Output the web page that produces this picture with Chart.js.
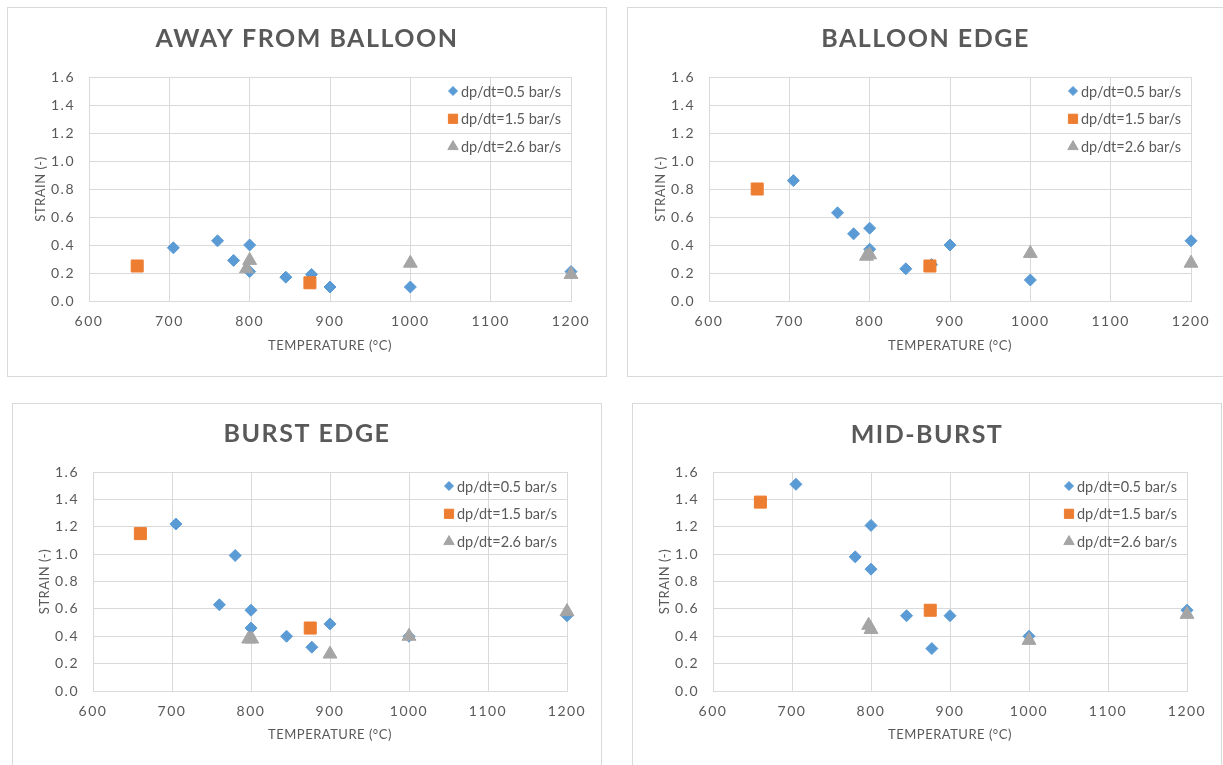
<!DOCTYPE html>
<html>
<head>
<meta charset="utf-8">
<script src="https://cdn.jsdelivr.net/npm/chart.js@4.4.1/dist/chart.umd.min.js"></script>
<style>
  html, body { margin: 0; padding: 0; background: #fff; }
  body { width: 1223px; height: 765px; overflow: hidden; position: relative; }
  .panel { position: absolute; box-sizing: border-box; border: 1px solid #d9d9d9; background: #fff; }
  .panel canvas { position: absolute; left: -1px; top: -1px; }
</style>
</head>
<body>
<div class="panel" id="p1"><canvas id="c1"></canvas></div>
<div class="panel" id="p2"><canvas id="c2"></canvas></div>
<div class="panel" id="p3"><canvas id="c3"></canvas></div>
<div class="panel" id="p4"><canvas id="c4"></canvas></div>
<script>
// Series names and axis ticks
const seriesLabels = ['dp/dt=0.5 bar/s', 'dp/dt=1.5 bar/s', 'dp/dt=2.6 bar/s'];
const panelTitles = ['AWAY FROM BALLOON', 'BALLOON EDGE', 'BURST EDGE', 'MID-BURST'];
const tempTicks = [600, 700, 800, 900, 1000, 1100, 1200];
const strainTicks = [0, 0.2, 0.4, 0.6, 0.8, 1.0, 1.2, 1.4, 1.6];

// Away from balloon
const awayTemp05 = [705, 760, 780, 800, 800, 845, 877, 900, 1000, 1200];
const awayStrain05 = [0.38, 0.43, 0.29, 0.40, 0.21, 0.17, 0.19, 0.10, 0.10, 0.21];
const awayTemp15 = [660, 875];
const awayStrain15 = [0.25, 0.13];
const awayTemp26 = [796, 800, 1000, 1200];
const awayStrain26 = [0.23, 0.29, 0.27, 0.19];

// Balloon edge
const edgeTemp05 = [705, 760, 780, 800, 800, 845, 877, 900, 1000, 1200];
const edgeStrain05 = [0.86, 0.63, 0.48, 0.52, 0.37, 0.23, 0.26, 0.40, 0.15, 0.43];
const edgeTemp15 = [660, 875];
const edgeStrain15 = [0.80, 0.25];
const edgeTemp26 = [796, 800, 1000, 1200];
const edgeStrain26 = [0.32, 0.33, 0.34, 0.27];

// Burst edge
const burstTemp05 = [705, 760, 780, 800, 800, 845, 877, 900, 1000, 1200];
const burstStrain05 = [1.22, 0.63, 0.99, 0.59, 0.46, 0.40, 0.32, 0.49, 0.40, 0.55];
const burstTemp15 = [660, 875];
const burstStrain15 = [1.15, 0.46];
const burstTemp26 = [797, 801, 900, 1000, 1200];
const burstStrain26 = [0.38, 0.38, 0.27, 0.40, 0.58];

// Mid-burst
const midTemp05 = [705, 780, 800, 800, 845, 877, 900, 1000, 1200];
const midStrain05 = [1.51, 0.98, 1.21, 0.89, 0.55, 0.31, 0.55, 0.40, 0.59];
const midTemp15 = [660, 875];
const midStrain15 = [1.38, 0.59];
const midTemp26 = [797, 800, 1000, 1200];
const midStrain26 = [0.48, 0.45, 0.37, 0.56];

const INK = '#595959';
const GRID = '#d9d9d9';
const seriesStyle = [
  { color: '#5b9bd5', pointStyle: 'rectRot', radius: 6,   legendRadius: 4.5, order: 3 },
  { color: '#ed7d31', pointStyle: 'rect',    radius: 8.5, legendRadius: 6.5, order: 2 },
  { color: '#a5a5a5', pointStyle: 'triangle', radius: 8,  legendRadius: 6,   order: 1 }
];

Chart.defaults.font.family = 'Lato, "Open Sans", sans-serif';
Chart.defaults.color = INK;

const zip = (xs, ys) => xs.map((x, i) => ({ x, y: ys[i] }));

// Spaced lettering for the chart title and tick labels; axis titles are tighter
const spacing = {
  id: 'spacing',
  beforeDraw(chart) {
    chart.ctx.letterSpacing = '1.5px';
    Object.values(chart.scales).forEach(sc => {
      if (sc._tightTitle) return;
      const base = sc.drawTitle;
      sc.drawTitle = function () {
        const prev = this.ctx.letterSpacing;
        this.ctx.letterSpacing = '0.5px';
        base.apply(this, arguments);
        this.ctx.letterSpacing = prev;
      };
      sc._tightTitle = true;
    });
  }
};

// Legend drawn in the top-right corner of the plot area
const innerLegend = {
  id: 'innerLegend',
  afterDraw(chart) {
    const { ctx, chartArea } = chart;
    ctx.save();
    ctx.letterSpacing = '0px';
    ctx.font = '14.5px Lato, "Open Sans", sans-serif';
    ctx.textBaseline = 'middle';
    chart.data.datasets.forEach((ds, i) => {
      const st = seriesStyle[i];
      const x = chartArea.right - 118;
      const y = chartArea.top + 14 + i * 27.8;
      ctx.fillStyle = st.color;
      ctx.strokeStyle = st.color;
      ctx.lineWidth = 1;
      Chart.helpers.drawPoint(ctx, { pointStyle: st.pointStyle, radius: st.legendRadius, rotation: 0, borderWidth: 1 }, x, y);
      ctx.fillStyle = INK;
      ctx.fillText(ds.label, x + 8, y + 1);
    });
    ctx.restore();
  }
};

function makePanel(id, canvasId, box, plot, title, series) {
  const wrap = document.getElementById(id);
  wrap.style.left = box.x + 'px';
  wrap.style.top = box.y + 'px';
  wrap.style.width = box.w + 'px';
  wrap.style.height = box.h + 'px';
  const cv = document.getElementById(canvasId);
  cv.width = box.w;
  cv.height = box.h;

  const datasets = series.map((s, i) => ({
    label: seriesLabels[i],
    data: zip(s[0], s[1]),
    pointStyle: seriesStyle[i].pointStyle,
    pointRadius: seriesStyle[i].radius,
    pointBackgroundColor: seriesStyle[i].color,
    pointBorderColor: seriesStyle[i].color,
    pointBorderWidth: 1,
    showLine: false,
    clip: false,
    order: seriesStyle[i].order
  }));

  return new Chart(cv, {
    type: 'scatter',
    data: { datasets },
    plugins: [spacing, innerLegend],
    options: {
      responsive: false,
      animation: false,
      devicePixelRatio: 1,
      layout: { padding: 0 },
      plugins: {
        legend: { display: false },
        tooltip: { enabled: false },
        title: {
          display: true,
          text: title,
          color: INK,
          font: { size: 25, weight: 'bold' },
          padding: { top: plot.titleY - 15, bottom: plot.top - plot.titleY - 15 }
        }
      },
      scales: {
        x: {
          type: 'linear',
          min: 600, max: 1200,
          afterBuildTicks: sc => { sc.ticks = tempTicks.map(v => ({ value: v })); },
          afterFit: sc => { sc.height = box.h - plot.bottom; },
          grid: { color: GRID, drawTicks: false },
          border: { color: GRID },
          ticks: { color: INK, font: { size: 14 }, padding: 12, callback: v => String(v) },
          title: {
            display: true, text: 'TEMPERATURE (°C)', color: INK,
            font: { size: 13 }, padding: { top: 0, bottom: box.h - plot.xTitleY - 7.8 }
          }
        },
        y: {
          type: 'linear',
          min: 0, max: 1.6,
          afterBuildTicks: sc => { sc.ticks = strainTicks.map(v => ({ value: v })); },
          afterFit: sc => { sc.width = plot.left; },
          grid: { color: GRID, drawTicks: false },
          border: { color: GRID },
          ticks: { color: INK, font: { size: 14 }, padding: 14, callback: v => Number(v).toFixed(1) },
          title: {
            display: true, text: 'STRAIN (-)', color: INK,
            font: { size: 13 }, padding: { top: plot.yTitleX - 7.8, bottom: 0 }
          }
        },
        // empty right-hand margin so the plot area ends where the panel needs it
        margin: {
          type: 'linear',
          position: 'right',
          display: true,
          grid: { display: false },
          border: { display: false },
          ticks: { display: false },
          afterFit: sc => { sc.width = box.w - plot.right; }
        }
      }
    }
  });
}

makePanel('p1', 'c1', { x: 7, y: 7, w: 600, h: 370 },
  { left: 82, top: 70, right: 564, bottom: 294, titleY: 32, xTitleY: 339, yTitleX: 34 },
  panelTitles[0],
  [[awayTemp05, awayStrain05], [awayTemp15, awayStrain15], [awayTemp26, awayStrain26]]);

makePanel('p2', 'c2', { x: 627, y: 7, w: 597, h: 370 },
  { left: 82, top: 70, right: 564, bottom: 294, titleY: 32, xTitleY: 339, yTitleX: 34 },
  panelTitles[1],
  [[edgeTemp05, edgeStrain05], [edgeTemp15, edgeStrain15], [edgeTemp26, edgeStrain26]]);

makePanel('p3', 'c3', { x: 12, y: 403, w: 590, h: 370 },
  { left: 81, top: 69, right: 555, bottom: 288, titleY: 31, xTitleY: 332, yTitleX: 33 },
  panelTitles[2],
  [[burstTemp05, burstStrain05], [burstTemp15, burstStrain15], [burstTemp26, burstStrain26]]);

makePanel('p4', 'c4', { x: 632, y: 403, w: 590, h: 370 },
  { left: 81, top: 69, right: 555, bottom: 288, titleY: 32, xTitleY: 332, yTitleX: 33 },
  panelTitles[3],
  [[midTemp05, midStrain05], [midTemp15, midStrain15], [midTemp26, midStrain26]]);
</script>
</body>
</html>
